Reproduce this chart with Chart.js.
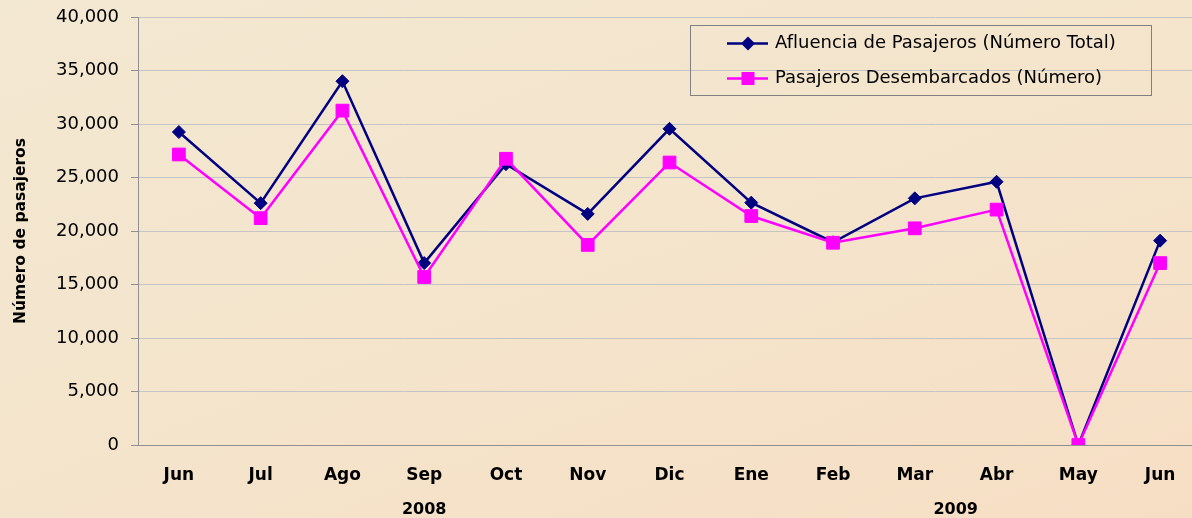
<!DOCTYPE html>
<html lang="es">
<head>
  <meta charset="UTF-8">
  <title>Afluencia de Pasajeros</title>
  <script src="https://cdn.jsdelivr.net/npm/chart.js"></script>
  <style>
    html, body { margin: 0; padding: 0; }
    body { width: 1192px; height: 518px; overflow: hidden;
      background: linear-gradient(160deg, #f3e8d2 0%, #f4e4cb 55%, #f6dec4 100%); }
    canvas { display: block; }
  </style>
</head>
<body>
  <!-- the original picture is cropped a little on the right, so the canvas runs past the window -->
  <canvas id="chart" width="1201" height="518"></canvas>
  <script>
    const months = ['Jun', 'Jul', 'Ago', 'Sep', 'Oct', 'Nov', 'Dic', 'Ene', 'Feb', 'Mar', 'Abr', 'May', 'Jun'];
    const afluencia = [29250, 22600, 34000, 17000, 26250, 21600, 29550, 22650, 18950, 23050, 24600, 0, 19100];
    const desembarcados = [27150, 21200, 31250, 15700, 26750, 18700, 26400, 21400, 18900, 20250, 22000, 0, 17000];
    const years = [
      { label: '2008', from: 0, to: 6 },
      { label: '2009', from: 7, to: 12 }
    ];
    const seriesNames = ['Afluencia de Pasajeros (Número Total)', 'Pasajeros Desembarcados (Número)'];

    const FONT = "'DejaVu Sans', sans-serif";

    // year labels under the month row, centred on each group of months
    const yearLabels = {
      id: 'yearLabels',
      afterDraw(chart) {
        const ctx = chart.ctx;
        const x = chart.scales.x;
        ctx.save();
        ctx.font = 'bold 16px ' + FONT;
        ctx.fillStyle = '#000';
        ctx.textAlign = 'center';
        ctx.textBaseline = 'middle';
        years.forEach(y => {
          ctx.fillText(y.label, x.getPixelForValue((y.from + y.to) / 2), 510);
        });
        ctx.restore();
      }
    };

    // boxed legend sitting inside the plot area, top right
    const boxLegend = {
      id: 'boxLegend',
      afterDraw(chart) {
        const ctx = chart.ctx;
        ctx.save();
        ctx.strokeStyle = '#808080';
        ctx.lineWidth = 1;
        ctx.strokeRect(690.5, 25.5, 461, 70);
        ctx.font = '18px ' + FONT;
        ctx.textBaseline = 'middle';
        chart.data.datasets.forEach((ds, i) => {
          const y = 43.5 + i * 35;
          ctx.strokeStyle = ds.borderColor;
          ctx.lineWidth = 2.5;
          ctx.beginPath();
          ctx.moveTo(727, y);
          ctx.lineTo(768, y);
          ctx.stroke();
          ctx.fillStyle = ds.pointBackgroundColor;
          if (ds.pointStyle === 'rectRot') {
            ctx.beginPath();
            ctx.moveTo(748, y - 7);
            ctx.lineTo(755, y);
            ctx.lineTo(748, y + 7);
            ctx.lineTo(741, y);
            ctx.closePath();
            ctx.fill();
          } else {
            ctx.fillRect(741.5, y - 6.5, 13, 13);
          }
          ctx.fillStyle = '#000';
          ctx.fillText(ds.label, 775, y);
        });
        ctx.restore();
      }
    };

    new Chart(document.getElementById('chart'), {
      type: 'line',
      data: {
        labels: months,
        datasets: [
          {
            label: seriesNames[0],
            data: afluencia,
            borderColor: '#000080',
            backgroundColor: '#000080',
            pointBackgroundColor: '#000080',
            pointBorderColor: '#000080',
            pointStyle: 'rectRot',
            pointRadius: 6.5,
            pointBorderWidth: 1,
            borderWidth: 2.5,
            tension: 0,
            order: 1
          },
          {
            label: seriesNames[1],
            data: desembarcados,
            borderColor: '#ff00ff',
            backgroundColor: '#ff00ff',
            pointBackgroundColor: '#ff00ff',
            pointBorderColor: '#ff00ff',
            pointStyle: 'rect',
            pointRadius: 9,
            pointBorderWidth: 1,
            borderWidth: 2.5,
            tension: 0,
            order: 0
          }
        ]
      },
      options: {
        responsive: false,
        animation: false,
        layout: { autoPadding: false, padding: { top: 17, right: 0, bottom: 0, left: 0 } },
        plugins: {
          legend: { display: false },
          tooltip: { enabled: false }
        },
        scales: {
          x: {
            offset: true,
            grid: { display: false, drawTicks: false },
            border: { display: true, color: '#909090', width: 1 },
            ticks: {
              color: '#000',
              font: { family: FONT, size: 17, weight: 'bold' },
              padding: 20,
              maxRotation: 0,
              autoSkip: false
            },
            afterFit(scale) {
              scale.height = 73;
              scale.paddingLeft = 0;
              scale.paddingRight = 0;
            }
          },
          y: {
            min: 0,
            max: 40000,
            grid: { color: '#c4c4c4', lineWidth: 1, tickLength: 7, tickColor: '#909090' },
            border: { display: true, color: '#909090', width: 1 },
            ticks: {
              stepSize: 5000,
              color: '#000',
              padding: 12,
              font: { family: FONT, size: 18 },
              callback: v => v.toLocaleString('en-US')
            },
            title: {
              display: true,
              text: 'Número de pasajeros',
              color: '#000',
              font: { family: FONT, size: 15.5, weight: 'bold' },
              padding: { top: 12, bottom: 0 }
            },
            afterFit(scale) {
              scale.width = 138;
              scale.paddingTop = 0;
              scale.paddingBottom = 0;
            }
          }
        }
      },
      plugins: [yearLabels, boxLegend]
    });
  </script>
</body>
</html>
